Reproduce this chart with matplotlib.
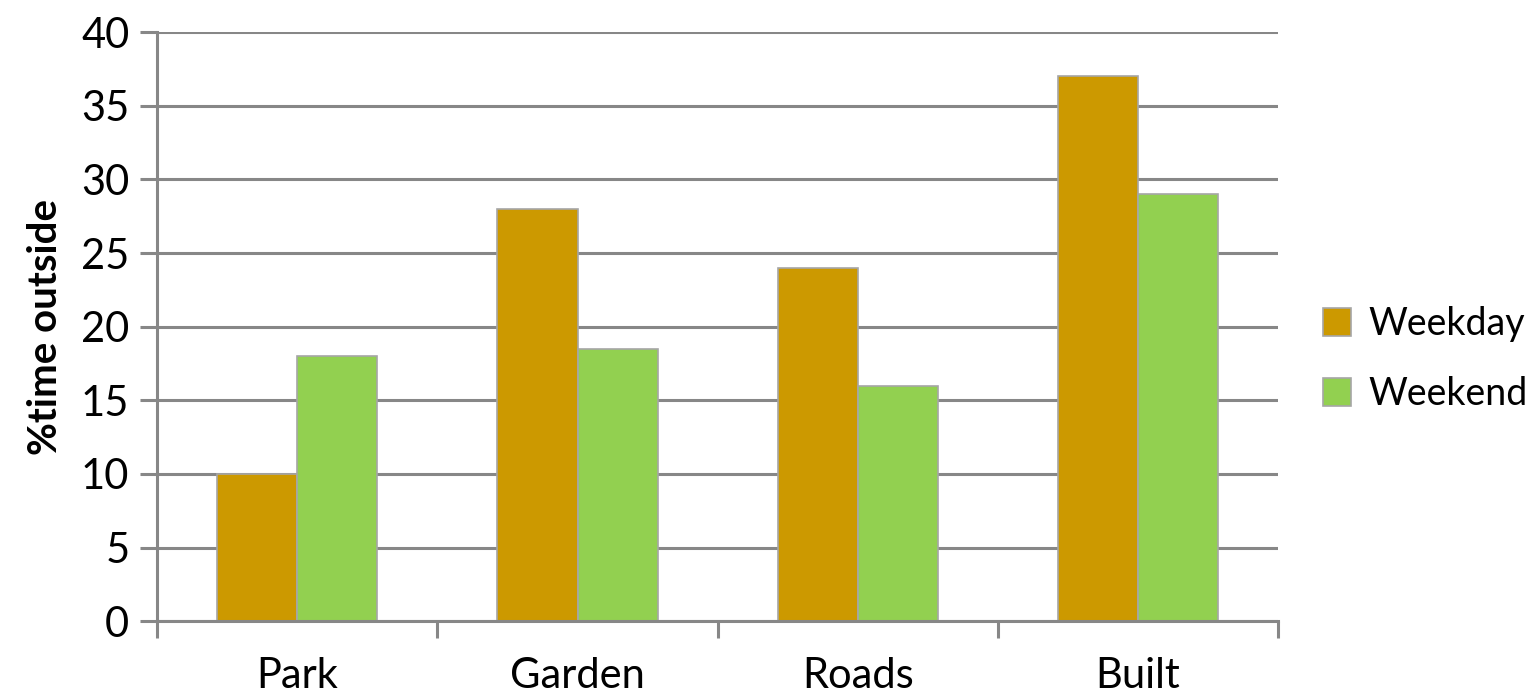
import numpy as np
import matplotlib
matplotlib.use("Agg")
import matplotlib.pyplot as plt

# data
categories = ["Park", "Garden", "Roads", "Built"]
weekday = [10, 28, 24, 37]
weekend = [18, 18.5, 16, 29]
series_names = ["Weekday", "Weekend"]
colors = ["#CC9900", "#92D050"]

plt.rcParams['font.family'] = ['Lato', 'DejaVu Sans']

fig = plt.figure(figsize=(15.4, 6.98), dpi=100)
ax = fig.add_axes([0.102, 0.110, 0.728, 0.844])

x = np.arange(len(categories))
w = 0.286
ax.bar(x - w / 2, weekday, w, color=colors[0], edgecolor="#A6A6A6", linewidth=1.2,
       label=series_names[0], zorder=3)
ax.bar(x + w / 2, weekend, w, color=colors[1], edgecolor="#A6A6A6", linewidth=1.2,
       label=series_names[1], zorder=3)

grid_col = "#878787"
ax.set_ylim(0, 40)
ax.set_xlim(-0.5, 3.5)
ax.set_yticks(np.arange(0, 41, 5))
ax.yaxis.grid(True, color=grid_col, linewidth=2.2, zorder=0)
ax.tick_params(axis="y", length=12, width=2.2, color=grid_col, labelsize=30, pad=8)

# category ticks between groups, labels centred under groups
ax.set_xticks(np.arange(-0.5, 3.6, 1))
ax.set_xticklabels([])
ax.set_xticks(x, minor=True)
ax.set_xticklabels(categories, minor=True)
ax.tick_params(axis="x", which="major", length=12, width=2.2, color=grid_col)
ax.tick_params(axis="x", which="minor", length=0, labelsize=30, pad=26)

for side in ["top", "right"]:
    ax.spines[side].set_visible(False)
ax.spines["left"].set_color(grid_col)
ax.spines["left"].set_linewidth(2.2)
ax.spines["bottom"].set_color(grid_col)
ax.spines["bottom"].set_linewidth(2.2)
ax.spines["bottom"].set_zorder(4)

ax.set_ylabel("%time outside", fontsize=29, fontweight="bold", labelpad=12)

ax.legend(loc="center left", bbox_to_anchor=(1.04, 0.445), frameon=False, fontsize=27,
          borderaxespad=0, borderpad=0, handlelength=0.75, handleheight=0.75,
          handletextpad=0.45, labelspacing=0.9)

fig.savefig("out.png", dpi=100)
